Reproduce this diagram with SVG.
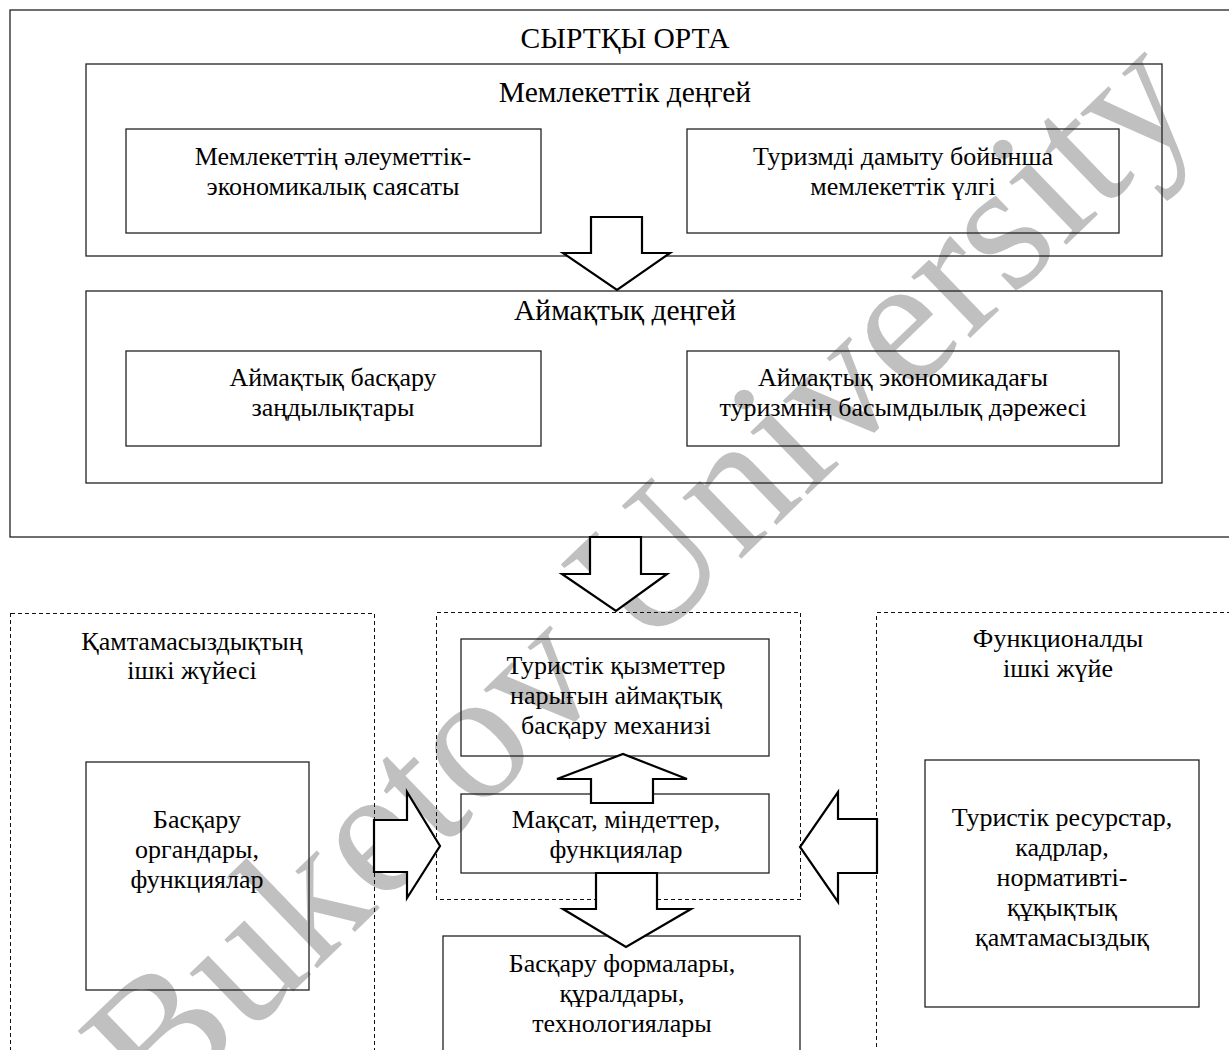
<svg xmlns="http://www.w3.org/2000/svg" width="1229" height="1050" viewBox="0 0 1229 1050">
<style>
text{font-family:"Liberation Serif","Times New Roman",serif;fill:#000;text-anchor:middle}
.h{font-size:29.5px}
.t{font-size:26px}
.box{fill:none;stroke:#222;stroke-width:1.3}
.dash{fill:none;stroke:#111;stroke-width:1.2;stroke-dasharray:4 3;shape-rendering:crispEdges}
.arr{fill:#fff;stroke:#000;stroke-width:2.2;stroke-linejoin:miter}
.wm{font-size:185px;fill:#c0c0c0}
</style>
<rect width="1229" height="1050" fill="#fff"/>
<g id="watermark"><text class="wm" x="681" y="617" transform="rotate(-44 681 617)">Buketov University</text></g>

<g id="external">
<rect class="box" x="10" y="10" width="1240" height="527"/>
<text class="h" x="625" y="48">СЫРТҚЫ ОРТА</text>
</g>
<g id="state-level">
<rect class="box" x="86" y="64" width="1076" height="192"/>
<text class="h" x="625" y="102">Мемлекеттік деңгей</text>
</g>
<g id="state-policy">
<rect class="box" x="126" y="129" width="415" height="104"/>
<text class="t" x="333" y="165">Мемлекеттің әлеуметтік-</text>
<text class="t" x="333" y="195">экономикалық саясаты</text>
</g>
<g id="state-model">
<rect class="box" x="687" y="129" width="432" height="104"/>
<text class="t" x="903" y="165">Туризмді дамыту бойынша</text>
<text class="t" x="903" y="195">мемлекеттік үлгі</text>
</g>
<g id="regional-level">
<rect class="box" x="86" y="291" width="1076" height="192"/>
<text class="h" x="625" y="320">Аймақтық деңгей</text>
</g>
<g id="regional-laws">
<rect class="box" x="126" y="351" width="415" height="95"/>
<text class="t" x="333" y="386">Аймақтық басқару</text>
<text class="t" x="333" y="416">заңдылықтары</text>
</g>
<g id="regional-priority">
<rect class="box" x="687" y="351" width="432" height="95"/>
<text class="t" x="903" y="386">Аймақтық экономикадағы</text>
<text class="t" x="903" y="416">туризмнің басымдылық дәрежесі</text>
</g>

<g id="support-subsystem">
<rect class="dash" x="10.5" y="613.5" width="364" height="460"/>
<text class="t" x="192" y="650">Қамтамасыздықтың</text>
<text class="t" x="192" y="679">ішкі жүйесі</text>
</g>
<g id="management-bodies">
<rect class="box" x="86" y="762" width="223" height="228"/>
<text class="t" x="197" y="828">Басқару</text>
<text class="t" x="197" y="858">органдары,</text>
<text class="t" x="197" y="888">функциялар</text>
</g>
<g id="core">
<rect class="dash" x="436.5" y="612.5" width="364" height="287"/>
</g>
<g id="mechanism">
<rect class="box" x="461" y="639" width="308" height="117"/>
<text class="t" x="616" y="674">Туристік қызметтер</text>
<text class="t" x="616" y="704">нарығын аймақтық</text>
<text class="t" x="616" y="734">басқару механизі</text>
</g>
<g id="goals">
<rect class="box" x="461" y="794" width="308" height="79"/>
<text class="t" x="616" y="828">Мақсат, міндеттер,</text>
<text class="t" x="616" y="858">функциялар</text>
</g>
<g id="forms">
<rect class="box" x="443" y="936" width="357" height="140"/>
<text class="t" x="622" y="972">Басқару формалары,</text>
<text class="t" x="622" y="1002">құралдары,</text>
<text class="t" x="622" y="1032">технологиялары</text>
</g>
<g id="functional-subsystem">
<rect class="dash" x="876.5" y="612.5" width="380" height="460"/>
<text class="t" x="1058" y="647">Функционалды</text>
<text class="t" x="1058" y="677">ішкі жүйе</text>
</g>
<g id="resources">
<rect class="box" x="925" y="760" width="274" height="247"/>
<text class="t" x="1062" y="826">Туристік ресурстар,</text>
<text class="t" x="1062" y="856">кадрлар,</text>
<text class="t" x="1062" y="886">нормативті-</text>
<text class="t" x="1062" y="916">құқықтық</text>
<text class="t" x="1062" y="946">қамтамасыздық</text>
</g>

<g id="connectors">
<polygon class="arr" points="591,217 642,217 642,253 670,253 617,290 563,253 591,253"/>
<polygon class="arr" points="590,537 641,537 641,574 667,574 616,611 562,574 590,574"/>
<polygon class="arr" points="591,803 653,803 653,779 687,779 623,754 557,779 591,779"/>
<polygon class="arr" points="596,873 657,873 657,909 691,909 626,947 563,909 596,909"/>
<polygon class="arr" points="374,820 407,820 407,792 440,846 407,898 407,872 374,872"/>
<polygon class="arr" points="877,819 838,819 838,792 800,847 838,902 838,873 877,873"/>
</g>
</svg>
